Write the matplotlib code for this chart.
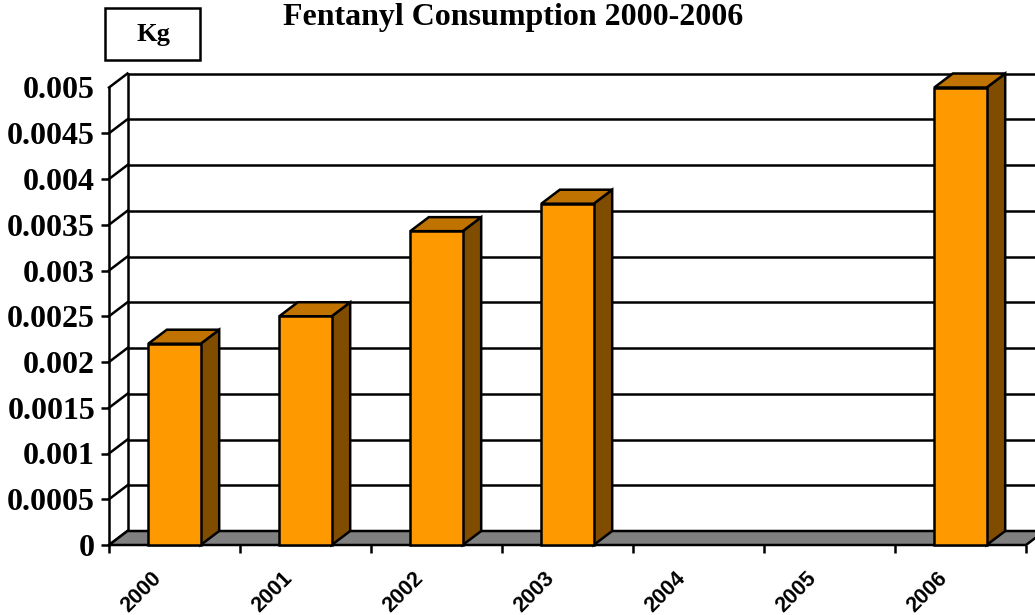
"""
Fentanyl consumption 2000-2006, drawn as an Excel-style 3D column chart.
"""

import numpy as np
import matplotlib
matplotlib.use("Agg")
import matplotlib.pyplot as plt
from matplotlib.patches import Polygon, Rectangle
from matplotlib.transforms import ScaledTranslation

years = ["2000", "2001", "2002", "2003", "2004", "2005", "2006"]
kg = [0.0022, 0.0025, 0.00343, 0.00373, 0.0, 0.0, 0.005]
y_ticks = [0, 0.0005, 0.001, 0.0015, 0.002, 0.0025, 0.003, 0.0035, 0.004, 0.0045, 0.005]
y_labels = ["0", "0.0005", "0.001", "0.0015", "0.002", "0.0025", "0.003",
            "0.0035", "0.004", "0.0045", "0.005"]

FRONT = "#FF9900"
TOP = "#C07300"
SIDE = "#7F4C00"
FLOOR = "#808080"
LW = 1.8

fig = plt.figure(figsize=(10.35, 6.15), dpi=100)
ax = fig.add_axes([109 / 1035, 70 / 615, 917 / 1035, 457.5 / 615])
n = len(years)
x = np.arange(n)
ax.set_xlim(-0.5, n - 0.5)
ax.set_ylim(0, 0.005)

# depth offset of the 3D box, in data units
dx = 18.5 / 131
dy = 14 / 457.5 * 0.005
bw = 0.40
x0, x1 = -0.5, n - 0.5

# ── back wall gridlines + left wall slants ───────────────────────────────────
for v in y_ticks:
    ax.plot([x0 + dx, x1 + dx], [v + dy, v + dy], color="black", lw=LW,
            zorder=1, clip_on=False, solid_capstyle="butt")
    ax.plot([x0, x0 + dx], [v, v + dy], color="black", lw=LW,
            zorder=1, clip_on=False)
ax.plot([x0 + dx, x0 + dx], [dy, y_ticks[-1] + dy], color="black", lw=LW,
        zorder=1, clip_on=False)

# ── floor ────────────────────────────────────────────────────────────────────
ax.add_patch(Polygon([(x0, 0), (x0 + dx, dy), (x1 + dx, dy), (x1, 0)],
                     closed=True, facecolor=FLOOR, edgecolor="black", lw=LW,
                     zorder=2, clip_on=False))

# ── bars ─────────────────────────────────────────────────────────────────────
for xi, v in zip(x, kg):
    if v <= 0:
        continue
    l, r = xi - bw / 2, xi + bw / 2
    side = [(r, 0), (r + dx, dy), (r + dx, v + dy), (r, v)]
    top = [(l, v), (l + dx, v + dy), (r + dx, v + dy), (r, v)]
    ax.add_patch(Polygon(side, closed=True, facecolor=SIDE, edgecolor="black",
                         lw=LW, zorder=3, clip_on=False))
    ax.add_patch(Polygon(top, closed=True, facecolor=TOP, edgecolor="black",
                         lw=LW, zorder=3, clip_on=False))
    ax.add_patch(Rectangle((l, 0), bw, v, facecolor=FRONT, edgecolor="black",
                           lw=LW, zorder=4, clip_on=False))

# ── axes, ticks ──────────────────────────────────────────────────────────────
for s in ["top", "right", "bottom"]:
    ax.spines[s].set_visible(False)
ax.spines["left"].set_linewidth(LW)
ax.spines["left"].set_zorder(5)
ax.set_facecolor("none")

ax.set_yticks(y_ticks)
ax.set_yticklabels(y_labels, fontfamily="Liberation Serif", fontweight="bold",
                   fontsize=23)
ax.tick_params(axis="y", length=6, width=LW, pad=4)
ax.yaxis.get_major_ticks()[-1].tick1line.set_visible(False)

ax.set_xticks(np.arange(n + 1) - 0.5)
ax.set_xticklabels([])
ax.tick_params(axis="x", length=6, width=LW, direction="out")

lab_tr = ax.get_xaxis_transform() + ScaledTranslation(-0.085, -0.225, fig.dpi_scale_trans)
for xi, yr in zip(x, years):
    ax.text(xi, 0, yr, transform=lab_tr, rotation=45, ha="right", va="top",
            fontfamily="Liberation Sans", fontweight="bold", fontsize=15.5)

# ── title and unit box ───────────────────────────────────────────────────────
fig.text(513 / 1035, 1 - 25 / 615, "Fentanyl Consumption 2000-2006",
         ha="center", va="baseline", fontfamily="Liberation Serif",
         fontweight="bold", fontsize=23)
fig.patches.append(Rectangle((105 / 1035, 1 - 60 / 615), 95 / 1035, 52 / 615,
                             transform=fig.transFigure, facecolor="white",
                             edgecolor="black", lw=1.8))
fig.text(153 / 1035, 1 - 35 / 615, "Kg", ha="center", va="center",
         fontfamily="Liberation Serif", fontweight="bold", fontsize=19)

fig.savefig("out.png", dpi=100)
plt.close(fig)
